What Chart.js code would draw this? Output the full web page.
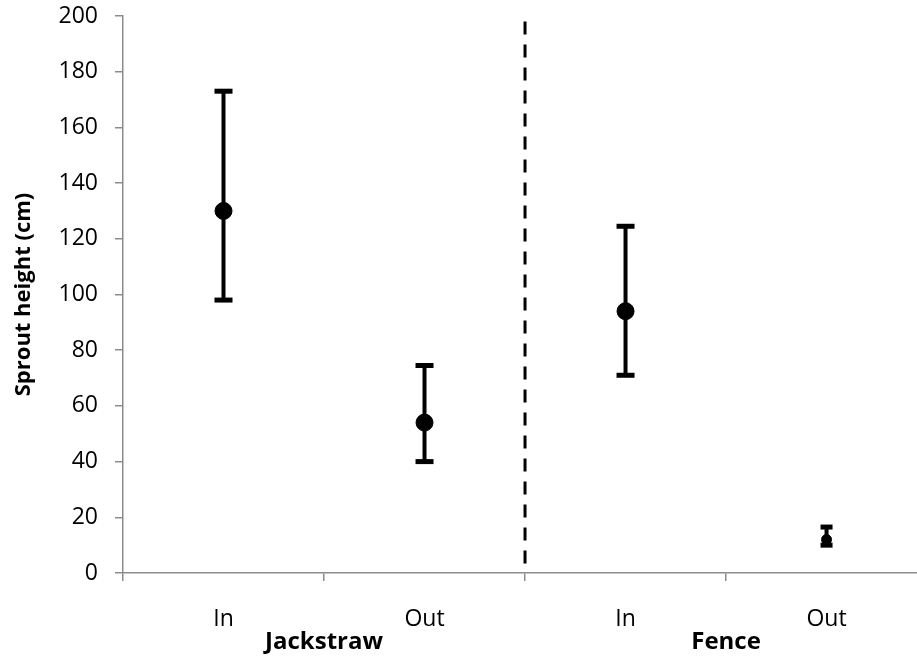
<!DOCTYPE html>
<html>
<head>
<meta charset="utf-8">
<script src="https://cdn.jsdelivr.net/npm/chart.js@4"></script>
<style>
  html, body { margin: 0; padding: 0; background: #fff; }
  #wrap { width: 917px; height: 660px; }
</style>
</head>
<body>
<div id="wrap"><canvas id="chart"></canvas></div>
<script>
const categories = ['In', 'Out', 'In', 'Out'];
const groups = ['Jackstraw', 'Fence'];
const means = [130, 54, 94, 12];
const upper = [173, 74.5, 124.5, 16.5];
const lower = [98, 40, 71, 10];
const dividerTop = 198;

const FONT = 'Open Sans';
const AXIS = '#8c8c8c';

// one point per category, centred in its slot
const meanPoints = means.map((m, i) => ({ x: i + 0.5, y: m }));
const radii = means.map((m, i) => (upper[i] - lower[i] < 10 ? 5 : 8.5));

const errorSets = means.map((m, i) => ({
  type: 'line',
  data: [{ x: i + 0.5, y: lower[i] }, { x: i + 0.5, y: upper[i] }],
  borderColor: '#000',
  borderWidth: 4,
  pointStyle: 'line',
  pointRadius: upper[i] - lower[i] < 10 ? 6 : 9,
  pointBorderWidth: 5,
  pointBorderColor: '#000',
  pointHoverRadius: 0,
  order: 1
}));

// keep the x axes flush with the canvas edges
const noSidePad = s => { s.paddingLeft = 0; s.paddingRight = 0; };

new Chart(document.getElementById('chart'), {
  type: 'scatter',
  data: {
    datasets: [
      {
        data: meanPoints,
        backgroundColor: '#000',
        borderColor: '#000',
        pointRadius: radii,
        pointHoverRadius: radii,
        order: 0
      },
      ...errorSets,
      {
        type: 'line',
        data: [{ x: 2, y: dividerTop }, { x: 2, y: 0 }],
        borderColor: '#000',
        borderWidth: 3,
        borderDash: [13, 10],
        pointRadius: 0,
        order: 2
      }
    ]
  },
  options: {
    responsive: true,
    maintainAspectRatio: false,
    animation: false,
    layout: { autoPadding: false, padding: { top: 16, left: 0, right: 0, bottom: 0 } },
    plugins: { legend: { display: false }, tooltip: { enabled: false } },
    scales: {
      x: {
        type: 'linear',
        position: 'bottom',
        weight: 0,
        min: 0,
        max: 3.95,
        bounds: 'data',
        afterBuildTicks: s => { s.ticks = [0, 0.5, 1, 1.5, 2, 2.5, 3, 3.5].map(v => ({ value: v })); },
        afterFit: s => { s.height = 56; noSidePad(s); },
        ticks: {
          autoSkip: false,
          maxRotation: 0,
          padding: 27,
          color: '#000',
          font: { family: FONT, size: 23, lineHeight: 1 },
          callback: v => (v % 1 === 0.5 ? categories[Math.floor(v)] : '')
        },
        grid: {
          drawOnChartArea: false,
          tickLength: 8,
          lineWidth: 1.5,
          tickColor: c => (c.tick && c.tick.value % 1 === 0 ? AXIS : 'rgba(0,0,0,0)')
        },
        border: { color: AXIS, width: 1.5 }
      },
      x2: {
        type: 'linear',
        position: 'bottom',
        weight: 1,
        min: 0,
        max: 3.95,
        bounds: 'data',
        afterBuildTicks: s => { s.ticks = groups.map((g, i) => ({ value: i * 2 + 1 })); },
        afterFit: s => { s.height = 31; noSidePad(s); },
        ticks: {
          autoSkip: false,
          maxRotation: 0,
          padding: 2,
          color: '#000',
          font: { family: FONT, size: 24, weight: 'bold', lineHeight: 0.9 },
          callback: v => groups[(v - 1) / 2]
        },
        grid: { display: false, drawTicks: false },
        border: { display: false }
      },
      y: {
        min: 0,
        max: 200,
        afterFit: s => { s.width = 123; s.paddingTop = 0; s.paddingBottom = 0; },
        ticks: {
          stepSize: 20,
          padding: 17,
          color: '#000',
          font: { family: FONT, size: 23 }
        },
        grid: { drawOnChartArea: false, tickLength: 8, lineWidth: 1.5, tickColor: AXIS },
        border: { color: AXIS, width: 1.5 },
        title: {
          display: true,
          text: 'Sprout height (cm)',
          color: '#000',
          font: { family: FONT, size: 22, weight: 'bold' },
          padding: { top: 11, bottom: 0 }
        }
      }
    }
  }
});
</script>
</body>
</html>
